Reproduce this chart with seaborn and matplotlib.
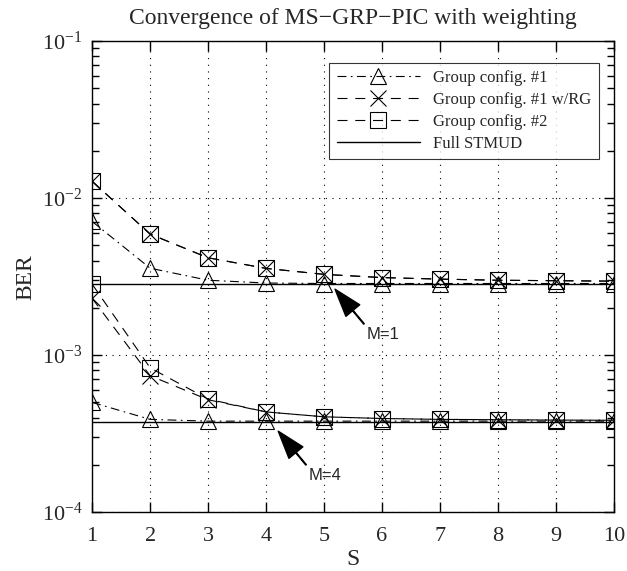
import numpy as np
import pandas as pd
import matplotlib
matplotlib.use('Agg')
import matplotlib.pyplot as plt
import matplotlib.ticker as mticker
import seaborn as sns

# Data (BER vs S)
S = np.arange(1, 11)

# M = 1
grp1_m1 = [7.1e-3, 3.58e-3, 3.0e-3, 2.88e-3, 2.86e-3, 2.86e-3, 2.86e-3, 2.86e-3, 2.86e-3, 2.86e-3]
grp1rg_m1 = [1.28e-2, 5.9e-3, 4.17e-3, 3.57e-3, 3.27e-3, 3.12e-3, 3.05e-3, 3.0e-3, 2.98e-3, 2.96e-3]
grp2_m1 = [1.28e-2, 5.9e-3, 4.17e-3, 3.57e-3, 3.27e-3, 3.12e-3, 3.05e-3, 3.0e-3, 2.98e-3, 2.96e-3]
full_m1 = [2.83e-3] * 10

# M = 4
grp1_m4 = [5.0e-4, 3.9e-4, 3.8e-4, 3.8e-4, 3.8e-4, 3.8e-4, 3.8e-4, 3.8e-4, 3.8e-4, 3.8e-4]
grp1rg_m4 = [2.3e-3, 7.4e-4, 5.2e-4, 4.35e-4, 4.05e-4, 3.95e-4, 3.9e-4, 3.88e-4, 3.86e-4, 3.85e-4]
grp2_m4 = [2.83e-3, 8.3e-4, 5.25e-4, 4.35e-4, 4.05e-4, 3.95e-4, 3.9e-4, 3.88e-4, 3.86e-4, 3.85e-4]
full_m4 = [3.75e-4] * 10

labels = ['Group config. #1', 'Group config. #1 w/RG', 'Group config. #2', 'Full STMUD']

sns.set_style('ticks')
plt.rcParams['font.family'] = ['Liberation Serif', 'DejaVu Serif']
plt.rcParams['mathtext.fontset'] = 'stix'

fig = plt.figure(figsize=(6.27, 5.71), dpi=100)
ax = fig.add_axes([0.147, 0.103, 0.832, 0.825])

dashdot = (0, (8, 4, 1.5, 4))
dashed = (0, (9, 7))
common = dict(color='black', linewidth=0.8, markersize=11,
              markerfacecolor='none', markeredgecolor='black', markeredgewidth=0.8)

styles = [
    (grp1_m1, grp1_m4, dashdot, '^'),
    (grp1rg_m1, grp1rg_m4, dashed, 'x'),
    (grp2_m1, grp2_m4, dashed, 's'),
]
handles = []
for (v1, v4, ls, mk), lab in zip(styles, labels[:3]):
    sns.lineplot(x=S, y=v1, ax=ax, linestyle=ls, marker=mk, **common)
    handles.append(ax.lines[-1])
    sns.lineplot(x=S, y=v4, ax=ax, linestyle=ls, marker=mk, **common)

sns.lineplot(x=S, y=full_m1, ax=ax, color='black', linewidth=1.0)
handles.append(ax.lines[-1])
sns.lineplot(x=S, y=full_m4, ax=ax, color='black', linewidth=1.0)

ax.set_yscale('log')
ax.set_xlim(1, 10)
ax.set_ylim(1e-4, 1e-1)
ax.set_xticks(S)
ax.yaxis.set_major_locator(mticker.LogLocator(base=10, numticks=10))
ax.yaxis.set_minor_locator(mticker.LogLocator(base=10, subs=np.arange(2, 10) * 1.0, numticks=40))
ax.yaxis.set_minor_formatter(mticker.NullFormatter())
ax.grid(True, which='major', linestyle=(0, (1, 5)), color='black', linewidth=0.8)
ax.tick_params(which='both', direction='in', top=True, right=True, labelsize=16,
               color='black', width=1.0)
ax.tick_params(axis='x', which='major', length=7, pad=11)
ax.tick_params(axis='y', which='major', length=7, pad=7)
ax.yaxis.set_tick_params(which='minor', length=5, width=1.0, left=True, right=True)
for sp in ax.spines.values():
    sp.set_linewidth(1.0)
    sp.set_color('black')

ax.set_xlabel('S', fontsize=17, labelpad=2)
ax.set_ylabel('BER', fontsize=17, labelpad=4)
ax.set_title('Convergence of MS\u2212GRP\u2212PIC with weighting', fontsize=17, pad=12)

ax.legend(handles, labels, loc='upper right', bbox_to_anchor=(0.988, 0.972),
          fontsize=12, frameon=True, fancybox=False, edgecolor='black',
          handlelength=5.0, borderpad=0.45, labelspacing=0.35)
ax.get_legend().get_frame().set_linewidth(0.8)

arrow = dict(facecolor='black', edgecolor='black', width=0.5, headwidth=13, headlength=20, shrink=0)
ax.annotate('M=1', xy=(5.19, 2.63e-3), xytext=(6.02, 1.35e-3), ha='center', va='center',
            fontsize=12, family='Liberation Sans', arrowprops=arrow)
ax.annotate('M=4', xy=(4.21, 3.28e-4), xytext=(5.02, 1.71e-4), ha='center', va='center',
            fontsize=12, family='Liberation Sans', arrowprops=arrow)

fig.savefig('out.png', dpi=100)
